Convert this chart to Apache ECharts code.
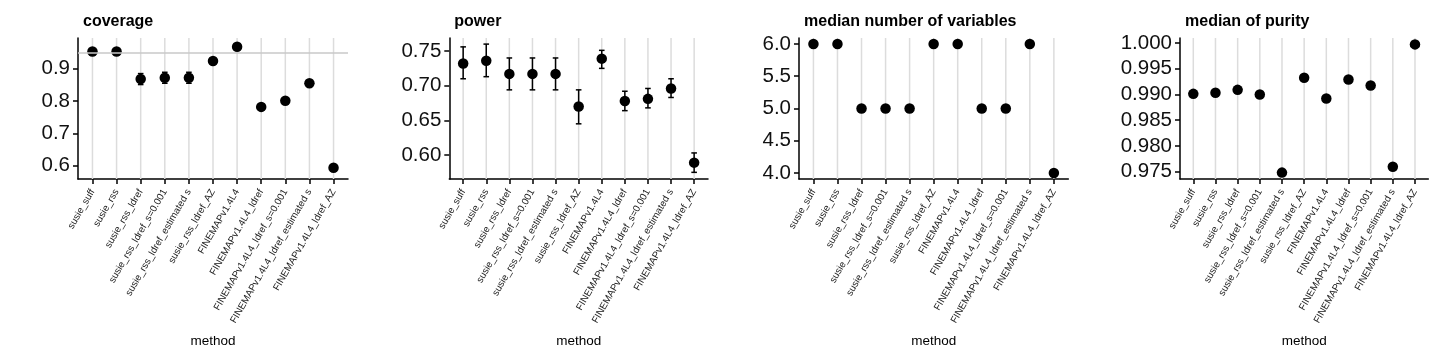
<!DOCTYPE html>
<html>
<head>
<meta charset="utf-8">
<script src="https://cdn.jsdelivr.net/npm/echarts@6/dist/echarts.min.js"></script>
<style>
html,body{margin:0;padding:0;background:#fff;}
#chart{width:1440px;height:360px;}
</style>
</head>
<body>
<div id="chart"></div>
<script>
// ---- data ----
const categories = [
  'susie_suff', 'susie_rss', 'susie_rss_ldref', 'susie_rss_ldref_s=0.001',
  'susie_rss_ldref_estimated s', 'susie_rss_ldref_AZ', 'FINEMAPv1.4L4',
  'FINEMAPv1.4L4_ldref', 'FINEMAPv1.4L4_ldref_s=0.001',
  'FINEMAPv1.4L4_ldref_estimated s', 'FINEMAPv1.4L4_ldref_AZ'
];
const titles = ['coverage', 'power', 'median number of variables', 'median of purity'];

const coverage    = [0.953, 0.953, 0.868, 0.872, 0.872, 0.924, 0.968, 0.782, 0.801, 0.855, 0.594];
const coverageLow = [0.949, 0.949, 0.851, 0.855, 0.855, 0.918, 0.964, 0.775, 0.794, 0.848, 0.586];
const coverageHigh= [0.957, 0.957, 0.885, 0.889, 0.889, 0.930, 0.972, 0.789, 0.808, 0.862, 0.602];
const coverageTarget = 0.95;

const power     = [0.732, 0.736, 0.717, 0.717, 0.717, 0.670, 0.739, 0.678, 0.681, 0.696, 0.589];
const powerLow  = [0.710, 0.713, 0.694, 0.694, 0.694, 0.645, 0.725, 0.664, 0.668, 0.683, 0.575];
const powerHigh = [0.756, 0.760, 0.740, 0.740, 0.740, 0.694, 0.751, 0.692, 0.696, 0.710, 0.603];

const nVariables = [6, 6, 5, 5, 5, 6, 6, 5, 5, 6, 4];

const purity = [0.99012, 0.99032, 0.99090, 0.98999, 0.97482, 0.99324, 0.98921, 0.99291, 0.99174, 0.97597, 0.99973];

const coverageTicks = [0.6, 0.7, 0.8, 0.9];
const powerTicks    = [0.60, 0.65, 0.70, 0.75];
const nVarTicks     = [4.0, 4.5, 5.0, 5.5, 6.0];
const purityTicks   = [0.975, 0.980, 0.985, 0.990, 0.995, 1.000];

// ---- layout ----
const panels = [
  {left: 78,    width: 270,   ymin: 0.559,   ymax: 0.995,   ticks: coverageTicks, dec: 1},
  {left: 449.3, width: 258.7, ymin: 0.5654,  ymax: 0.7688,  ticks: powerTicks,    dec: 2},
  {left: 799,   width: 269.3, ymin: 3.907,   ymax: 6.093,   ticks: nVarTicks,     dec: 1},
  {left: 1180,  width: 248.3, ymin: 0.97358, ymax: 1.00097, ticks: purityTicks,   dec: 3}
];
const TOP = 38, HEIGHT = 141;
const FONT = '"Liberation Sans", Arial, Helvetica, sans-serif';
const catIdx = categories.map((_, i) => i);

const grids = [], xAxes = [], yAxes = [], series = [], titleList = [];

panels.forEach((p, k) => {
  grids.push({left: p.left, top: TOP, width: p.width, height: HEIGHT});
  titleList.push({
    text: titles[k], left: p.left, top: 9,
    textStyle: {fontFamily: FONT, fontSize: 16, fontWeight: 'bold', color: '#000'}
  });
  xAxes.push({
    type: 'value', gridIndex: k, min: -0.6, max: 10.6,
    name: 'method', nameLocation: 'middle', nameGap: 155,
    nameTextStyle: {fontFamily: FONT, fontSize: 13.5, color: '#000'},
    axisLine: {show: true, onZero: false, lineStyle: {color: '#000', width: 1.5}},
    axisTick: {show: true, length: 5, customValues: catIdx, lineStyle: {color: '#000', width: 1.5}},
    axisLabel: {
      customValues: catIdx, rotate: 60, margin: 11,
      fontFamily: FONT, fontSize: 9.8, color: '#222',
      formatter: v => categories[Math.round(v)] || ''
    },
    splitLine: {show: false}
  });
  yAxes.push({
    type: 'value', gridIndex: k, min: p.ymin, max: p.ymax,
    axisLine: {show: true, onZero: false, lineStyle: {color: '#000', width: 1.5}},
    axisTick: {show: true, length: 5, customValues: p.ticks, lineStyle: {color: '#000', width: 1.5}},
    axisLabel: {
      customValues: p.ticks, margin: 8,
      fontFamily: FONT, fontSize: 20.5, color: '#111',
      formatter: v => Number(v).toFixed(p.dec)
    },
    splitLine: {show: false}
  });
  // vertical grid lines at categories
  series.push({
    type: 'custom', xAxisIndex: k, yAxisIndex: k, silent: true, z: 1, clip: false,
    data: catIdx.map(i => [i, p.ticks[0]]),
    renderItem: (params, api) => {
      const pt = api.coord([api.value(0), api.value(1)]);
      const cs = params.coordSys;
      return {type: 'line', shape: {x1: pt[0], y1: cs.y, x2: pt[0], y2: cs.y + cs.height},
        style: {stroke: '#dcdcdc', lineWidth: 1.5}};
    }
  });
});

function errorSeries(k, low, high) {
  return {
    type: 'custom', xAxisIndex: k, yAxisIndex: k, silent: true, z: 2,
    data: catIdx.map(i => [i, low[i], high[i]]),
    encode: {x: 0, y: [1, 2]},
    renderItem: (params, api) => {
      const x = api.value(0);
      const a = api.coord([x, api.value(1)]);
      const b = api.coord([x, api.value(2)]);
      const hw = 2.8;
      const st = {stroke: '#000', lineWidth: 1.5};
      return {type: 'group', children: [
        {type: 'line', shape: {x1: a[0], y1: a[1], x2: b[0], y2: b[1]}, style: st},
        {type: 'line', shape: {x1: a[0] - hw, y1: a[1], x2: a[0] + hw, y2: a[1]}, style: st},
        {type: 'line', shape: {x1: b[0] - hw, y1: b[1], x2: b[0] + hw, y2: b[1]}, style: st}
      ]};
    }
  };
}
function pointSeries(k, vals, extra) {
  return Object.assign({
    type: 'scatter', xAxisIndex: k, yAxisIndex: k, z: 3, silent: true,
    symbol: 'circle', symbolSize: 10.5,
    itemStyle: {color: '#000', opacity: 1},
    data: catIdx.map(i => [i, vals[i]])
  }, extra || {});
}

series.push(errorSeries(0, coverageLow, coverageHigh));
series.push(pointSeries(0, coverage, {
  markLine: {
    silent: true, symbol: 'none', label: {show: false},
    lineStyle: {color: '#c8c8c8', width: 1.5, type: 'solid'},
    data: [{yAxis: coverageTarget}]
  }
}));
series.push(errorSeries(1, powerLow, powerHigh));
series.push(pointSeries(1, power));
series.push(pointSeries(2, nVariables));
series.push(pointSeries(3, purity));

const chart = echarts.init(document.getElementById('chart'), null, {renderer: 'canvas'});
chart.setOption({
  animation: false,
  backgroundColor: '#fff',
  title: titleList,
  grid: grids,
  xAxis: xAxes,
  yAxis: yAxes,
  series: series
});
</script>
</body>
</html>
